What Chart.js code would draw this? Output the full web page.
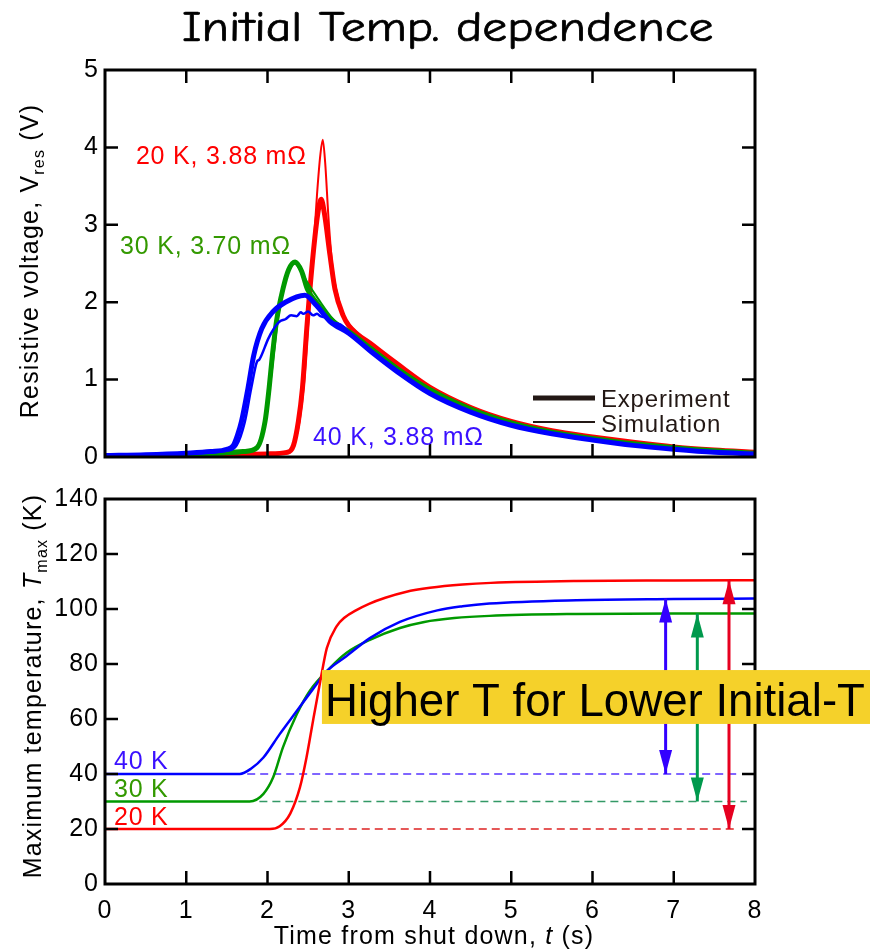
<!DOCTYPE html>
<html lang="en">

<head>
  <meta charset="UTF-8">
  <title>Initial Temp. dependence</title>
  <script src="https://cdn.jsdelivr.net/npm/chart.js"></script>
  <style>
    body { margin: 0; background: #fff; }
    .figure { position: relative; width: 873px; height: 952px; overflow: hidden; }
    .figure canvas { position: absolute; left: 0; }
    #vres { top: 0; }
    #tmax { top: 478px; }
    .figure h1 {
      position: absolute; left: 182px; top: 7px; margin: 0;
      font: normal 42px/42px "Comic Sans MS", "Comic Neue", "DejaVu Sans", sans-serif;
      -webkit-text-stroke: 0.7px #000;
      white-space: nowrap; transform-origin: 0 0; color: #000;
    }
  </style>
</head>

<body>
  <div class="figure">
    <canvas id="vres" width="873" height="478"></canvas>
    <canvas id="tmax" width="873" height="474"></canvas>
    <h1 id="title">Initial Temp. dependence</h1>
  </div>

  <script>
    // ---- resistive voltage (s, V) ----
    const tRedExp = [0, 0.5, 1, 1.5, 2.0, 2.24, 2.32, 2.38, 2.43, 2.49, 2.56, 2.62, 2.66, 2.7, 2.77, 2.83, 2.93, 3.0, 3.3, 3.6, 4.0, 4.5, 5.0, 5.5, 6.0, 6.5, 7.0, 7.5, 8.0];
    const vRedExp = [0.01, 0.02, 0.02, 0.03, 0.04, 0.06, 0.15, 0.46, 0.89, 1.75, 2.6, 3.15, 3.33, 3.15, 2.6, 2.17, 1.83, 1.7, 1.44, 1.2, 0.9, 0.64, 0.46, 0.34, 0.26, 0.19, 0.13, 0.09, 0.06];
    const tRedSim = [0, 1, 2.0, 2.26, 2.34, 2.4, 2.45, 2.5, 2.56, 2.61, 2.65, 2.68, 2.71, 2.75, 2.8, 2.86, 2.93, 3.0, 3.3, 3.6, 4.0, 4.5, 5.0, 5.5, 6.0, 6.5, 7.0, 7.5, 8.0];
    const vRedSim = [0.01, 0.01, 0.03, 0.05, 0.2, 0.5, 0.95, 1.7, 2.6, 3.4, 3.9, 4.1, 3.8, 3.1, 2.45, 2.1, 1.85, 1.72, 1.45, 1.21, 0.91, 0.65, 0.47, 0.35, 0.26, 0.19, 0.13, 0.09, 0.06];

    const tGreenExp = [0, 0.5, 1.0, 1.42, 1.7, 1.87, 1.97, 2.02, 2.06, 2.11, 2.19, 2.26, 2.34, 2.42, 2.49, 2.6, 2.81, 3.0, 3.3, 3.6, 4.0, 4.5, 5.0, 5.5, 6.0, 6.5, 7.0, 7.5, 8.0];
    const vGreenExp = [0.02, 0.02, 0.03, 0.05, 0.07, 0.12, 0.46, 0.89, 1.31, 1.75, 2.17, 2.42, 2.52, 2.4, 2.17, 2.0, 1.75, 1.62, 1.38, 1.14, 0.87, 0.62, 0.44, 0.32, 0.24, 0.17, 0.12, 0.08, 0.05];
    const tGreenSim = [0, 1.0, 1.5, 1.8, 1.9, 1.98, 2.03, 2.08, 2.13, 2.2, 2.27, 2.33, 2.4, 2.5, 2.62, 2.81, 3.0, 3.3, 3.6, 4.0, 4.5, 5.0, 5.5, 6.0, 6.5, 7.0, 7.5, 8.0];
    const vGreenSim = [0.01, 0.02, 0.04, 0.08, 0.2, 0.5, 0.9, 1.35, 1.8, 2.2, 2.42, 2.5, 2.42, 2.24, 2.05, 1.78, 1.63, 1.39, 1.15, 0.88, 0.63, 0.45, 0.33, 0.24, 0.17, 0.12, 0.08, 0.05];

    const tBlueExp = [0, 0.5, 1.0, 1.3, 1.5, 1.58, 1.63, 1.68, 1.76, 1.83, 1.93, 2.07, 2.22, 2.46, 2.6, 2.77, 3.0, 3.3, 3.6, 4.0, 4.5, 5.0, 5.5, 6.0, 6.5, 7.0, 7.5, 8.0];
    const vBlueExp = [0.02, 0.03, 0.05, 0.07, 0.1, 0.15, 0.28, 0.46, 0.89, 1.31, 1.66, 1.88, 2.0, 2.09, 1.96, 1.75, 1.6, 1.34, 1.1, 0.82, 0.58, 0.41, 0.3, 0.22, 0.15, 0.1, 0.06, 0.04];
    const tBlueSim = [0, 1.0, 1.5, 1.62, 1.72, 1.8, 1.87, 1.9, 2.01, 2.08, 2.15, 2.22, 2.29, 2.36, 2.41, 2.44, 2.5, 2.56, 2.61, 2.65, 2.72, 2.81, 2.9, 3.0, 3.3, 3.6, 4.0, 4.5, 5.0, 5.5, 6.0, 6.5, 7.0, 7.5, 8.0];
    const vBlueSim = [0.02, 0.05, 0.08, 0.15, 0.45, 0.89, 1.23, 1.26, 1.53, 1.66, 1.75, 1.78, 1.83, 1.82, 1.87, 1.85, 1.88, 1.83, 1.85, 1.82, 1.8, 1.74, 1.71, 1.62, 1.36, 1.12, 0.83, 0.59, 0.42, 0.3, 0.22, 0.15, 0.1, 0.06, 0.04];

    // ---- maximum temperature (s, K) ----
    const tRedT = [0, 1, 2.03, 2.15, 2.28, 2.4, 2.48, 2.56, 2.65, 2.73, 2.85, 2.95, 3.1, 3.25, 3.45, 3.7, 4.0, 4.4, 4.75, 5.8, 7.0, 8.0];
    const kRedT = [20, 20, 20, 21, 25.6, 35.2, 46, 59.3, 73.8, 85.8, 93.7, 96.9, 99.7, 101.9, 104.1, 106.2, 107.7, 108.9, 109.5, 110.2, 110.4, 110.5];
    const tGreenT = [0, 1, 1.78, 1.95, 2.07, 2.19, 2.36, 2.52, 2.77, 2.97, 3.26, 3.63, 3.93, 4.3, 4.73, 5.8, 7.0, 8.0];
    const kGreenT = [30, 30, 30, 32.8, 38.8, 49.7, 61.7, 70.2, 78.6, 84, 88.8, 93.1, 95.3, 96.7, 97.5, 98.2, 98.4, 98.4];
    const tBlueT = [0, 1, 1.66, 1.8, 1.95, 2.15, 2.36, 2.55, 2.73, 2.97, 3.26, 3.63, 4.09, 4.4, 4.73, 5.8, 7.0, 8.0];
    const kBlueT = [40, 40, 40, 42, 46, 54.5, 62.9, 70.5, 77.4, 82.8, 89.4, 95.3, 99.5, 101, 102, 103.2, 103.6, 103.8];

    // initial temperature guides and rise arrows (20 K, 30 K, 40 K)
    const initTemps = [20, 30, 40];
    const guideStart = [2.2, 1.9, 1.75];
    const guideEnd = [7.78, 7.9, 7.78];
    const arrowTimes = [7.68, 7.29, 6.9];
    const arrowTops = [110.5, 98.4, 103.8];

    const FONT = '"Liberation Sans", Arial, Helvetica, sans-serif';
    const RED = '#ff0000', GREEN = '#009900', BLUE = '#0000ff';

    Chart.defaults.font.family = FONT;
    Chart.defaults.color = '#000';

    const pts = (ts, vs) => ts.map((t, i) => ({ x: t, y: vs[i] }));

    function curve(ts, vs, color, width, order) {
      return {
        data: pts(ts, vs), borderColor: color, borderWidth: width, order: order,
        pointRadius: 0, cubicInterpolationMode: 'monotone', borderJoinStyle: 'round', fill: false
      };
    }

    function axes(yMax, yStep, withXLabels) {
      return {
        x: {
          type: 'linear', min: 0, max: 8,
          ticks: { stepSize: 1, display: withXLabels, padding: 12, maxRotation: 0, font: { size: 25 } },
          grid: { display: false, drawTicks: false }, border: { display: false },
          afterFit: s => { s.height = withXLabels ? 68 : 19; }
        },
        y: {
          type: 'linear', min: 0, max: yMax,
          ticks: { stepSize: yStep, padding: 6, font: { size: 25 } },
          grid: { display: false, drawTicks: false }, border: { display: false },
          afterFit: s => { s.width = 105; }
        }
      };
    }

    // box round the plot with inward ticks on all four sides
    const frame = {
      id: 'frame',
      beforeDraw(chart) {
        // slightly open tracking for the tick numbers
        chart.ctx.letterSpacing = '1px';
      },
      afterDraw(chart) {
        const { ctx, chartArea: a, scales: { x, y } } = chart;
        ctx.save();
        ctx.strokeStyle = '#000';
        ctx.lineWidth = 2.5;
        ctx.beginPath();
        x.ticks.forEach(t => {
          if (t.value <= x.min || t.value >= x.max) return;
          const px = x.getPixelForValue(t.value);
          ctx.moveTo(px, a.bottom); ctx.lineTo(px, a.bottom - 13);
          ctx.moveTo(px, a.top); ctx.lineTo(px, a.top + 13);
        });
        y.ticks.forEach(t => {
          if (t.value <= y.min || t.value >= y.max) return;
          const py = y.getPixelForValue(t.value);
          ctx.moveTo(a.left, py); ctx.lineTo(a.left + 13, py);
          ctx.moveTo(a.right, py); ctx.lineTo(a.right - 13, py);
        });
        ctx.stroke();
        ctx.lineWidth = 3;
        ctx.strokeRect(a.left, a.top, a.right - a.left, a.bottom - a.top);
        ctx.restore();
      }
    };

    // text made of runs (italic symbols, subscripts), optionally turned upright
    function richText(ctx, parts, x, y, size, upright) {
      ctx.save();
      ctx.translate(x, y);
      if (upright) ctx.rotate(-Math.PI / 2);
      ctx.letterSpacing = '1.2px';
      ctx.fillStyle = '#000';
      ctx.textAlign = 'left';
      ctx.textBaseline = 'alphabetic';
      const fontOf = p => (p.italic ? 'italic ' : '') + (p.sub ? Math.round(size * 0.62) : size) + 'px ' + FONT;
      const widths = parts.map(p => { ctx.font = fontOf(p); return ctx.measureText(p.text).width; });
      let cx = -widths.reduce((s, w) => s + w, 0) / 2;
      parts.forEach((p, i) => {
        ctx.font = fontOf(p);
        ctx.fillText(p.text, cx, p.sub ? size * 0.24 : 0);
        cx += widths[i];
      });
      ctx.restore();
    }

    function label(ctx, text, px, py, color, size) {
      ctx.save();
      ctx.letterSpacing = '0.8px';
      ctx.font = size + 'px ' + FONT;
      ctx.fillStyle = color;
      ctx.textAlign = 'left';
      ctx.textBaseline = 'alphabetic';
      ctx.fillText(text, px, py);
      ctx.restore();
    }

    const voltNotes = {
      id: 'voltNotes',
      afterDraw(chart) {
        const { ctx, scales: { x, y } } = chart;
        label(ctx, '20 K, 3.88 mΩ', x.getPixelForValue(0.38), y.getPixelForValue(3.78), RED, 25);
        label(ctx, '30 K, 3.70 mΩ', x.getPixelForValue(0.185), y.getPixelForValue(2.62), '#339900', 25);
        label(ctx, '40 K, 3.88 mΩ', x.getPixelForValue(2.56), y.getPixelForValue(0.154), '#3a10ff', 25);

        // line-weight key
        ctx.save();
        ctx.strokeStyle = '#231815';
        ctx.lineWidth = 5;
        ctx.beginPath(); ctx.moveTo(533, 398); ctx.lineTo(595, 398); ctx.stroke();
        ctx.lineWidth = 2;
        ctx.beginPath(); ctx.moveTo(533, 422); ctx.lineTo(595, 422); ctx.stroke();
        ctx.restore();
        label(ctx, 'Experiment', 601, 407, '#231815', 24);
        label(ctx, 'Simulation', 601, 432, '#231815', 24);

        richText(ctx, [{ text: 'Resistive voltage, V' }, { text: 'res', sub: true }, { text: ' (V)' }], 38, 261, 25, true);
      }
    };

    const arrowColors = ['#e60020', '#00994d', '#3300ff'];
    function head(ctx, px, py, dir) {
      ctx.beginPath();
      ctx.moveTo(px, py);
      ctx.lineTo(px - 6.5, py - dir * 24);
      ctx.lineTo(px + 6.5, py - dir * 24);
      ctx.closePath();
      ctx.fill();
    }

    const tempNotes = {
      id: 'tempNotes',
      afterDatasetsDraw(chart) {
        const { ctx, scales: { x, y } } = chart;
        ctx.save();
        arrowTimes.forEach((t, i) => {
          const px = x.getPixelForValue(t);
          ctx.fillStyle = arrowColors[i];
          head(ctx, px, y.getPixelForValue(arrowTops[i]), -1);
          head(ctx, px, y.getPixelForValue(initTemps[i]), 1);
        });
        ctx.restore();
      },
      afterDraw(chart) {
        const { ctx, scales: { x, y } } = chart;
        label(ctx, '40 K', x.getPixelForValue(0.11), y.getPixelForValue(41.95), '#3a10ff', 25);
        label(ctx, '30 K', x.getPixelForValue(0.11), y.getPixelForValue(31.8), '#339900', 25);
        label(ctx, '20 K', x.getPixelForValue(0.11), y.getPixelForValue(21.3), RED, 25);

        richText(ctx, [{ text: 'Maximum temperature, ' }, { text: 'T', italic: true }, { text: 'max', sub: true }, { text: ' (K)' }], 41, 208, 25, true);
        richText(ctx, [{ text: 'Time from shut down, ' }, { text: 't', italic: true }, { text: ' (s)' }], 434, 466, 25, false);

        // highlighted message box, runs past the right edge of the frame
        const left = x.getPixelForValue(2.67);
        const top = y.getPixelForValue(77.8);
        const bottom = y.getPixelForValue(58.2);
        ctx.save();
        ctx.letterSpacing = '0px';
        ctx.fillStyle = '#f5d12a';
        ctx.fillRect(left, top, chart.width - 3 - left, bottom - top);
        ctx.fillStyle = '#000';
        ctx.font = '47px ' + FONT;
        ctx.textBaseline = 'alphabetic';
        ctx.fillText('Higher T for Lower Initial-T', left + 3, top + 46, 540);
        ctx.restore();
      }
    };

    const base = {
      responsive: false, animation: false, events: [],
      plugins: { legend: { display: false }, tooltip: { enabled: false } }
    };

    new Chart(document.getElementById('vres'), {
      type: 'line',
      data: {
        datasets: [
          curve(tRedExp, vRedExp, RED, 5, 6),
          curve(tRedSim, vRedSim, RED, 2, 5),
          curve(tGreenExp, vGreenExp, GREEN, 5, 4),
          curve(tGreenSim, vGreenSim, GREEN, 2, 3),
          curve(tBlueExp, vBlueExp, BLUE, 5, 2),
          curve(tBlueSim, vBlueSim, BLUE, 2.5, 1)
        ]
      },
      options: Object.assign({}, base, {
        layout: { padding: { top: 70, right: 118, left: 0, bottom: 0 } },
        scales: axes(5, 1, false)
      }),
      plugins: [frame, voltNotes]
    });

    const guideColors = ['#dd2222', '#339966', '#5533ff'];
    const guides = initTemps.map((k, i) => ({
      data: [{ x: guideStart[i], y: k }, { x: guideEnd[i], y: k }],
      borderColor: guideColors[i], borderWidth: 1.3, borderDash: [8, 5],
      pointRadius: 0, order: 10
    }));
    const arrows = arrowTimes.map((t, i) => ({
      data: [{ x: t, y: initTemps[i] }, { x: t, y: arrowTops[i] }],
      borderColor: arrowColors[i], borderWidth: 3, pointRadius: 0, order: -1
    }));

    new Chart(document.getElementById('tmax'), {
      type: 'line',
      data: {
        datasets: [
          curve(tRedT, kRedT, RED, 2.5, 0),
          curve(tBlueT, kBlueT, BLUE, 2.5, 1),
          curve(tGreenT, kGreenT, GREEN, 2.5, 2),
          ...guides,
          ...arrows
        ]
      },
      options: Object.assign({}, base, {
        layout: { padding: { top: 19, right: 118, left: 0, bottom: 0 } },
        scales: axes(140, 20, true)
      }),
      plugins: [frame, tempNotes]
    });

    // squeeze the heading to its set width
    const title = document.getElementById('title');
    title.style.transform = 'scaleX(' + (531 / title.offsetWidth) + ')';
  </script>
</body>

</html>
